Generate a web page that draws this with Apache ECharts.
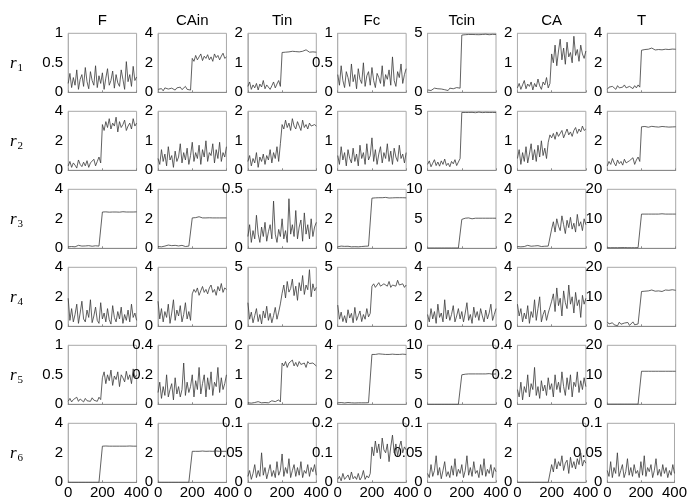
<!DOCTYPE html>
<html><head><meta charset="utf-8">
<script src="https://cdn.jsdelivr.net/npm/echarts@6/dist/echarts.min.js"></script>
<style>html,body{margin:0;padding:0;background:#fff}#c{width:690px;height:501px}</style>
</head><body><div id="c"></div>
<script>
const colNames = ['F','CAin','Tin','Fc','Tcin','CA','T'];
const rowNames = ['1','2','3','4','5','6'];
const xTicks = [0, 200, 400];
const xStep = 10;
// y-axis max and tick step for each row
const yMaxR1 = [1, 4, 2, 1, 5, 2, 4];      const yStepR1 = [0.5, 2, 1, 0.5, 5, 1, 2];
const yMaxR2 = [4, 2, 2, 2, 5, 2, 4];      const yStepR2 = [2, 1, 1, 1, 5, 1, 2];
const yMaxR3 = [4, 4, 0.5, 4, 10, 4, 20];  const yStepR3 = [2, 2, 0.5, 2, 5, 2, 10];
const yMaxR4 = [4, 4, 5, 5, 4, 4, 20];     const yStepR4 = [2, 2, 5, 5, 2, 2, 10];
const yMaxR5 = [1, 0.4, 2, 4, 10, 0.4, 20];const yStepR5 = [0.5, 0.2, 1, 2, 5, 0.2, 10];
const yMaxR6 = [4, 4, 0.1, 0.2, 0.1, 4, 0.1]; const yStepR6 = [2, 2, 0.05, 0.1, 0.05, 2, 0.05];

// ---- row 1 ----
const r1F = [0.15,0.32,0.08,0.25,0.12,0.38,0.05,0.22,0.3,0.1,0.42,0.18,0.06,0.35,0.2,0.12,0.45,0.08,0.28,0.15,
  0.33,0.05,0.24,0.4,0.12,0.2,0.36,0.07,0.3,0.16,0.1,0.38,0.22,0.05,0.52,0.18,0.3,0.1,0.44,0.2,0.26];
const r1CAin = [0.2,0.15,0.25,0.1,0.3,0.18,0.22,0.12,0.28,0.2,0.15,0.3,0.22,0.35,0.18,0.25,0.4,0.2,0.3,0.15,
  2.3,2.1,2.5,2.2,2.4,2.6,2.15,2.45,2.3,2.55,2.2,2.4,2.1,2.6,2.35,2.5,2.2,2.45,2.65,2.3,2.4];
const r1Tin = [0.2,0.35,0.1,0.25,0.15,0.3,0.08,0.28,0.18,0.4,0.12,0.25,0.3,0.1,0.22,0.35,0.15,0.28,0.4,0.2,
  1.35,1.38,1.36,1.4,1.37,1.35,1.39,1.36,1.38,1.42,1.37,1.36,1.39,1.37,1.44,1.38,1.36,1.4,1.37,1.38,1.36];
const r1Fc = [0.3,0.12,0.45,0.2,0.08,0.35,0.25,0.1,0.48,0.18,0.3,0.06,0.4,0.22,0.15,0.5,0.1,0.28,0.35,0.12,
  0.42,0.2,0.08,0.32,0.25,0.15,0.45,0.1,0.3,0.22,0.38,0.12,0.6,0.2,0.1,0.35,0.25,0.48,0.15,0.3,0.4];
const r1Tcin = [0.2,0.3,0.15,0.25,0.35,0.2,0.3,0.18,0.28,0.4,0.22,0.3,0.15,0.35,0.25,0.3,0.2,0.4,0.28,0.35,
  4.85,4.9,4.88,4.92,4.9,4.87,4.9,4.93,4.89,4.9,4.88,4.91,4.9,4.87,4.92,4.9,4.88,4.9,4.91,4.89,4.9];
const r1CA = [0.15,0.3,0.1,0.25,0.4,0.12,0.28,0.2,0.35,0.08,0.3,0.18,0.45,0.22,0.1,0.35,0.25,0.5,0.15,0.3,
  1.3,1.0,1.6,0.9,1.4,1.8,1.1,1.5,0.95,1.7,1.2,1.35,1.0,1.9,1.25,1.45,1.05,1.6,1.3,1.15,1.4];
const r1T = [0.2,0.35,0.25,0.4,0.3,0.2,0.45,0.3,0.25,0.35,0.5,0.3,0.2,0.4,0.35,0.25,0.45,0.3,0.5,0.35,
  2.85,2.95,2.9,2.88,2.92,2.9,3.0,2.9,2.87,2.93,2.9,2.95,2.88,2.9,2.92,2.95,2.9,2.88,2.93,2.9,2.92];
// ---- row 2 ----
const r2F = [0.3,0.6,0.2,0.5,0.35,0.15,0.7,0.4,0.25,0.55,0.3,0.65,0.2,0.5,0.45,0.75,0.3,0.6,0.9,0.5,
  3.1,2.7,3.3,2.9,3.5,2.8,3.2,3.0,3.6,2.6,3.3,2.9,3.1,3.4,2.7,3.0,3.2,2.8,3.5,3.0,3.2];
const r2CAin = [0.4,0.2,0.7,0.3,0.55,0.15,0.8,0.35,0.5,0.1,0.65,0.3,0.45,0.9,0.25,0.6,0.35,0.75,0.2,0.5,
  0.95,0.3,0.6,0.4,0.85,0.2,0.7,0.45,1.0,0.3,0.6,0.5,0.9,0.25,0.7,0.4,0.95,0.3,0.6,0.45,0.8];
const r2Tin = [0.3,0.5,0.15,0.4,0.25,0.6,0.1,0.45,0.3,0.55,0.2,0.5,0.35,0.7,0.25,0.6,0.4,0.8,0.3,0.9,
  1.55,1.4,1.7,1.45,1.6,1.35,1.75,1.5,1.4,1.65,1.5,1.35,1.7,1.45,1.55,1.4,1.6,1.5,1.45,1.55,1.5];
const r2Fc = [0.5,0.2,0.8,0.35,0.6,0.15,0.7,0.4,0.25,0.75,0.3,0.55,0.15,0.85,0.4,0.6,0.2,0.9,0.35,0.5,
  1.1,0.3,0.7,0.2,0.55,0.8,0.25,0.6,0.4,0.9,0.3,0.65,0.2,0.75,0.45,0.3,0.85,0.4,0.55,0.25,0.6];
const r2Tcin = [0.5,0.8,0.3,0.6,0.9,0.4,0.7,0.35,0.8,0.5,0.95,0.4,0.6,0.3,0.75,0.55,0.9,0.4,0.7,1.0,
  4.9,4.88,4.9,4.92,4.9,4.89,4.91,4.9,4.88,4.9,4.93,4.9,4.89,4.9,4.91,4.88,4.9,4.92,4.9,4.89,4.9];
const r2CA = [0.4,0.7,0.2,0.6,0.3,0.8,0.25,0.55,0.9,0.35,0.7,0.3,0.85,0.45,1.0,0.5,0.75,0.4,0.95,1.2,
  1.1,1.25,1.05,1.3,1.15,1.2,1.35,1.1,1.25,1.4,1.2,1.3,1.15,1.35,1.45,1.25,1.4,1.3,1.5,1.35,1.4];
const r2T = [0.3,0.6,0.4,0.8,0.5,0.3,0.7,0.45,0.6,0.35,0.75,0.5,0.4,0.65,0.55,0.85,0.4,0.7,0.9,0.6,
  2.95,2.93,2.97,2.95,2.92,2.95,2.98,2.94,2.95,2.96,2.93,2.95,2.97,2.94,2.95,2.96,2.93,2.95,2.94,2.96,2.95];
// ---- row 3 ----
const r3F = [0.1,0.15,0.12,0.18,0.1,0.14,0.2,0.12,0.15,0.1,0.16,0.12,0.18,0.1,0.14,0.12,0.17,0.1,0.15,0.12,
  2.46,2.46,2.47,2.46,2.45,2.46,2.46,2.47,2.46,2.46,2.45,2.46,2.48,2.46,2.46,2.47,2.46,2.45,2.46,2.46,2.47];
const r3CAin = [0.12,0.18,0.1,0.2,0.15,0.12,0.22,0.1,0.18,0.14,0.2,0.12,0.16,0.1,0.2,0.15,0.12,0.25,0.15,0.2,
  2.06,2.06,2.08,2.06,2.14,2.06,2.06,2.08,2.06,2.06,2.07,2.06,2.06,2.08,2.06,2.06,2.06,2.07,2.06,2.06,2.06];
const r3Tin = [0.1,0.2,0.05,0.15,0.08,0.28,0.12,0.05,0.18,0.1,0.22,0.06,0.14,0.2,0.08,0.4,0.12,0.05,0.16,0.1,
  0.25,0.08,0.15,0.05,0.42,0.12,0.2,0.1,0.32,0.08,0.18,0.24,0.06,0.3,0.12,0.2,0.08,0.25,0.1,0.18,0.22];
const r3Fc = [0.1,0.12,0.15,0.1,0.13,0.1,0.14,0.12,0.1,0.16,0.11,0.12,0.1,0.15,0.12,0.1,0.14,0.12,0.15,0.1,
  3.4,3.43,3.42,3.45,3.43,3.4,3.43,3.42,3.45,3.43,3.41,3.43,3.42,3.44,3.43,3.4,3.43,3.42,3.43,3.45,3.42];
const r3Tcin = [0.05,0.05,0.05,0.05,0.05,0.05,0.05,0.05,0.05,0.05,0.05,0.05,0.05,0.05,0.05,0.05,0.05,0.05,0.05,0.05,
  4.9,5.0,5.1,5.05,5.15,5.1,5.0,5.2,5.1,5.05,5.1,5.15,5.1,5.0,5.1,5.2,5.1,5.05,5.1,5.15,5.1];
const r3CA = [0.12,0.15,0.1,0.18,0.12,0.15,0.2,0.12,0.14,0.1,0.16,0.12,0.18,0.15,0.12,0.2,0.14,0.18,0.15,0.2,
  1.3,1.8,1.1,2.0,1.5,1.2,2.2,1.6,1.0,1.9,1.4,2.1,1.3,1.7,1.1,2.3,1.5,1.8,1.2,2.0,1.6];
const r3T = [0.2,0.25,0.2,0.22,0.2,0.25,0.2,0.2,0.22,0.2,0.25,0.2,0.2,0.22,0.2,0.25,0.2,0.2,0.22,0.2,
  11.6,11.65,11.6,11.7,11.6,11.62,11.6,11.68,11.6,11.65,11.6,11.6,11.7,11.62,11.6,11.65,11.6,11.68,11.6,11.62,11.6];
// ---- row 4 ----
const r4F = [1.9,0.4,1.2,0.3,0.8,1.5,0.2,0.9,1.7,0.5,0.3,1.1,0.6,1.8,0.25,0.7,1.3,0.4,0.2,1.6,
  0.5,0.9,0.3,1.2,0.45,0.15,1.4,0.6,0.3,1.0,0.5,1.3,0.2,0.8,0.4,1.1,0.3,1.5,0.6,0.9,0.4];
const r4CAin = [1.7,0.5,1.2,0.3,1.0,0.6,1.5,0.2,0.9,1.8,0.4,1.1,0.7,1.4,0.3,0.8,1.6,0.5,1.0,0.4,
  2.2,2.5,2.3,2.6,2.1,2.4,2.7,2.3,2.5,2.2,2.6,2.8,2.3,2.5,2.1,2.7,2.4,2.9,2.3,2.6,2.5];
const r4Tin = [2.0,0.6,1.2,0.3,0.9,1.5,0.4,1.0,0.2,1.3,0.7,1.7,0.5,1.1,0.3,0.9,1.6,0.6,1.2,1.9,
  2.8,3.5,2.4,3.8,2.9,3.2,4.0,2.6,3.4,2.2,3.7,3.0,4.3,2.7,3.5,3.1,4.8,2.5,3.6,3.0,3.3];
const r4Fc = [1.8,0.6,1.2,0.4,0.9,0.3,1.4,0.7,1.1,0.3,1.6,0.5,0.9,1.3,0.4,1.0,0.6,1.5,0.8,1.1,
  3.4,3.6,3.3,3.5,3.7,3.4,3.3,3.6,3.5,3.4,3.8,3.3,3.5,3.6,3.4,3.9,3.5,3.4,3.6,3.3,3.5];
const r4Tcin = [0.8,0.3,1.2,0.5,1.0,0.2,1.5,0.6,0.9,0.3,1.8,0.5,1.1,0.4,0.8,1.4,0.3,0.7,1.2,0.5,
  1.0,0.3,0.9,1.6,0.4,0.8,0.2,1.3,0.6,1.0,0.4,1.2,0.7,0.3,1.1,0.5,0.9,1.5,0.4,0.8,1.2];
const r4CA = [1.5,0.7,1.2,0.3,0.9,0.5,1.4,0.2,1.0,0.6,1.8,0.4,1.2,2.0,0.3,0.8,1.1,0.4,0.9,1.3,
  1.7,2.2,1.0,2.6,1.4,1.9,0.7,2.4,1.6,1.2,2.8,1.5,2.0,0.9,2.3,1.4,1.8,0.6,2.1,1.5,1.9];
const r4T = [1.5,0.8,0.3,1.2,0.5,1.0,0.2,1.4,0.7,0.4,1.1,0.6,1.3,0.3,0.9,1.5,0.5,1.0,0.8,1.2,
  11.8,12.2,11.9,12.4,12.0,11.7,12.3,12.1,11.9,12.2,12.0,12.5,11.8,12.1,12.3,11.9,12.2,12.0,12.4,12.1,12.2];
// ---- row 5 ----
const r5F = [0.05,0.1,0.04,0.08,0.06,0.12,0.05,0.09,0.07,0.04,0.1,0.06,0.08,0.05,0.11,0.07,0.09,0.05,0.12,0.08,
  0.45,0.55,0.35,0.5,0.4,0.58,0.32,0.48,0.42,0.55,0.3,0.5,0.45,0.38,0.56,0.42,0.5,0.35,0.6,0.45,0.5];
const r5CAin = [0.08,0.15,0.04,0.12,0.06,0.2,0.05,0.1,0.14,0.03,0.18,0.07,0.12,0.05,0.1,0.28,0.06,0.15,0.08,0.12,
  0.2,0.05,0.16,0.1,0.25,0.07,0.14,0.2,0.05,0.18,0.1,0.22,0.06,0.15,0.12,0.25,0.08,0.18,0.1,0.14,0.2];
const r5Tin = [0.05,0.08,0.04,0.1,0.06,0.05,0.09,0.07,0.05,0.1,0.06,0.08,0.05,0.07,0.12,0.06,0.09,0.05,0.15,0.08,
  1.4,1.3,1.45,1.25,1.4,1.35,1.5,1.3,1.42,1.28,1.45,1.35,1.3,1.4,1.25,1.45,1.38,1.32,1.4,1.35,1.3];
const r5Fc = [0.1,0.08,0.12,0.1,0.09,0.1,0.12,0.08,0.1,0.11,0.09,0.12,0.1,0.08,0.1,0.12,0.1,0.09,0.11,0.1,
  3.38,3.4,3.38,3.36,3.42,3.38,3.4,3.36,3.38,3.41,3.38,3.36,3.4,3.38,3.38,3.42,3.38,3.36,3.4,3.38,3.38];
const r5Tcin = [0,0,0,0,0,0,0,0,0,0,0,0,0,0,0,0,0,0,0,0,
  5.0,5.15,5.1,5.2,5.15,5.1,5.15,5.25,5.15,5.1,5.15,5.2,5.15,5.1,5.15,5.15,5.2,5.15,5.1,5.15,5.15];
const r5CA = [0.1,0.05,0.15,0.03,0.12,0.08,0.2,0.05,0.14,0.1,0.25,0.06,0.12,0.04,0.16,0.09,0.13,0.06,0.18,0.1,
  0.14,0.05,0.2,0.1,0.15,0.08,0.22,0.12,0.06,0.18,0.1,0.2,0.05,0.15,0.12,0.22,0.08,0.16,0.1,0.18,0.12];
const r5T = [0.05,0.05,0.05,0.05,0.05,0.05,0.05,0.05,0.05,0.05,0.05,0.05,0.05,0.05,0.05,0.05,0.05,0.05,0.05,0.05,
  11.2,11.2,11.2,11.2,11.2,11.2,11.2,11.2,11.2,11.2,11.2,11.2,11.2,11.2,11.2,11.2,11.2,11.2,11.2,11.2,11.2];
// ---- row 6 ----
const r6F = [0,0,0,0,0,0,0,0,0,0,0,0,0,0,0,0,0,0,0,0,
  2.45,2.45,2.46,2.45,2.45,2.44,2.45,2.46,2.45,2.45,2.45,2.46,2.45,2.44,2.45,2.45,2.46,2.45,2.45,2.44,2.45];
const r6CAin = [0,0,0,0,0,0,0,0,0,0,0,0,0,0,0,0,0,0,0,0,
  2.1,2.1,2.1,2.11,2.1,2.1,2.12,2.1,2.1,2.1,2.11,2.1,2.1,2.1,2.12,2.1,2.1,2.11,2.1,2.1,2.1];
const r6Tin = [0.01,0.02,0.005,0.015,0.03,0.008,0.02,0.01,0.05,0.012,0.025,0.006,0.018,0.03,0.01,0.02,0.008,0.035,0.012,0.02,
  0.048,0.01,0.025,0.015,0.04,0.008,0.02,0.03,0.01,0.025,0.012,0.035,0.008,0.02,0.015,0.03,0.01,0.025,0.018,0.03,0.012];
const r6Fc = [0.01,0.02,0.005,0.03,0.01,0.015,0.025,0.008,0.035,0.012,0.02,0.01,0.03,0.008,0.018,0.04,0.01,0.022,0.015,0.03,
  0.12,0.09,0.14,0.1,0.13,0.08,0.15,0.11,0.1,0.13,0.07,0.12,0.16,0.1,0.13,0.09,0.12,0.14,0.1,0.12,0.11];
const r6Tcin = [0.015,0.008,0.03,0.01,0.02,0.045,0.012,0.025,0.006,0.02,0.035,0.01,0.018,0.008,0.028,0.012,0.04,0.01,0.022,0.015,
  0.03,0.008,0.02,0.045,0.012,0.025,0.01,0.035,0.015,0.02,0.008,0.03,0.012,0.04,0.01,0.022,0.015,0.03,0.008,0.025,0.018];
const r6CA = [0,0,0,0,0,0,0,0,0,0,0,0,0,0,0,0,0,0,0,0,
  1.2,0.7,1.6,0.9,1.4,1.1,1.8,0.8,1.3,1.5,0.6,1.7,1.0,1.4,0.9,1.6,1.2,2.0,1.1,1.5,1.3];
const r6T = [0.02,0.01,0.035,0.008,0.025,0.015,0.05,0.01,0.02,0.03,0.008,0.018,0.04,0.012,0.025,0.01,0.03,0.015,0.02,0.008,
  0.035,0.012,0.045,0.01,0.025,0.018,0.03,0.008,0.02,0.04,0.012,0.022,0.01,0.03,0.015,0.025,0.008,0.02,0.012,0.03,0.015];

const rows = [
  {d:[r1F,r1CAin,r1Tin,r1Fc,r1Tcin,r1CA,r1T], mx:yMaxR1, st:yStepR1},
  {d:[r2F,r2CAin,r2Tin,r2Fc,r2Tcin,r2CA,r2T], mx:yMaxR2, st:yStepR2},
  {d:[r3F,r3CAin,r3Tin,r3Fc,r3Tcin,r3CA,r3T], mx:yMaxR3, st:yStepR3},
  {d:[r4F,r4CAin,r4Tin,r4Fc,r4Tcin,r4CA,r4T], mx:yMaxR4, st:yStepR4},
  {d:[r5F,r5CAin,r5Tin,r5Fc,r5Tcin,r5CA,r5T], mx:yMaxR5, st:yStepR5},
  {d:[r6F,r6CAin,r6Tin,r6Fc,r6Tcin,r6CA,r6T], mx:yMaxR6, st:yStepR6}
];

const FONT = 'Liberation Sans, Arial, sans-serif';
const grid = [], xAxis = [], yAxis = [], series = [], graphic = [];
const L0 = 68.2, DX = 89.85, W = 68.4, T0 = 33.3, DY = 78, H = 59;
rows.forEach((row, r) => {
  row.d.forEach((vals, c) => {
    const idx = grid.length;
    grid.push({left: L0 + DX*c, top: T0 + DY*r, width: W, height: H,
      show: true, borderColor: '#a8a8a8', borderWidth: 1, backgroundColor: 'transparent'});
    xAxis.push({type:'value', gridIndex: idx, min: xTicks[0], max: xTicks[2], interval: 200,
      axisLine:{show:true, lineStyle:{color:'#8a8a8a', width:1}},
      axisTick:{show:true, inside:true, length:2, lineStyle:{color:'#8a8a8a'}},
      splitLine:{show:false},
      axisLabel:{show: r === 5, fontSize:15, fontFamily: FONT, color:'#000', margin:3}});
    yAxis.push({type:'value', gridIndex: idx, min: 0, max: row.mx[c], interval: row.st[c],
      axisLine:{show:true, lineStyle:{color:'#b0b0b0', width:1}},
      axisTick:{show:false},
      splitLine:{show:false},
      axisLabel:{fontSize:15, fontFamily: FONT, color:'#000', margin:5}});
    series.push({type:'line', xAxisIndex: idx, yAxisIndex: idx, showSymbol:false, silent:true,
      animation:false, data: vals.map((v,i)=>[i*xStep, v]),
      lineStyle:{color:'#3a3a3a', width:0.8}});
  });
});
colNames.forEach((n, c) => {
  graphic.push({type:'text', x: L0 + DX*c + W/2, y: 21,
    style:{text:n, fontSize:15, fontFamily: FONT, fill:'#000', align:'center', verticalAlign:'middle'}});
});
rowNames.forEach((n, r) => {
  graphic.push({type:'text', x: 10, y: T0 + DY*r + H/2 + 1,
    style:{text:'{r|r}{s|' + n + '}', verticalAlign:'middle', align:'left',
      rich:{r:{fontFamily:'Liberation Serif, serif', fontStyle:'italic', fontSize:17, fill:'#000'},
            s:{fontFamily:'Liberation Serif, serif', fontSize:11, fill:'#000', padding:[8,0,0,1]}}}});
});

const chart = echarts.init(document.getElementById('c'), null, {renderer:'canvas'});
chart.setOption({animation:false, backgroundColor:'#fff', grid, xAxis, yAxis, series, graphic});
</script>
</body></html>
